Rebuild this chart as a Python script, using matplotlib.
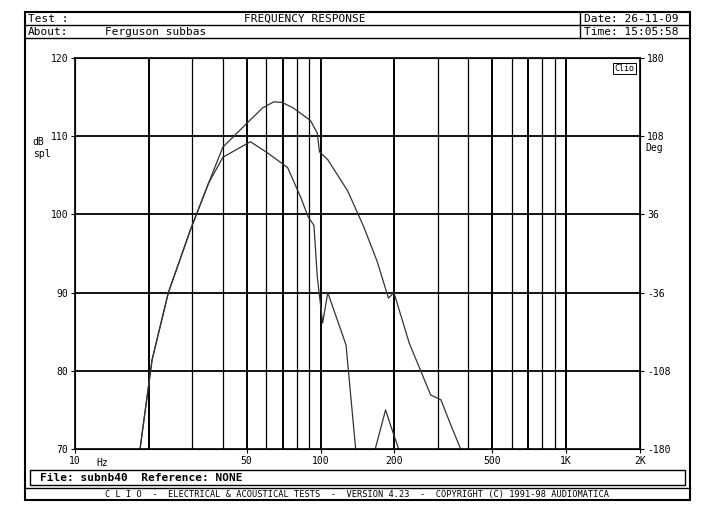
import matplotlib
matplotlib.use("Agg")
import matplotlib.pyplot as plt
from matplotlib.patches import Rectangle
from matplotlib.lines import Line2D

W, H = 705, 523
upper_f = [18.4, 20.6, 24, 29.5, 35, 40, 50.3, 58, 64.5, 70, 77.5, 91, 97, 99, 107, 129, 150, 170, 189, 199, 230, 281, 309, 340, 372]
upper_db = [70, 81.4, 90, 98, 104, 108.6, 111.7, 113.6, 114.4, 114.3, 113.6, 112, 110.4, 108, 107, 103, 98.4, 94, 89.3, 90, 83.5, 76.9, 76.3, 73, 70]
lower_f = [18.4, 20.6, 24, 29.5, 35, 40, 51.8, 60.6, 73.4, 83, 89, 94, 97, 102, 107, 121, 127, 139]
lower_db = [70, 81.4, 90, 98, 104, 107.3, 109.3, 107.9, 106, 102.2, 99.7, 98.6, 92, 86.1, 90, 85.2, 83.3, 70]
bump_f = [167, 184, 193, 208]
bump_db = [70, 75, 73, 70]
yticks = [70, 80, 90, 100, 110, 120]
rticks = ['-180', '-108', '-36', '36', '108', '180']
xticks = [10, 50, 100, 200, 500, 1000, 2000]
xlabels = ['10', '50', '100', '200', '500', '1K', '2K']

fig = plt.figure(figsize=(W/100, H/100), dpi=100)
mono = dict(family='DejaVu Sans Mono', color='black')

def fx(px): return px / W
def fy(py): return 1 - py / H

# outer frame and header
fig.add_artist(Rectangle((fx(25), fy(500)), fx(665), (500-12)/H, fill=False, lw=1.5, transform=fig.transFigure))
for y in (25, 38):
    fig.add_artist(Line2D([fx(25), fx(690)], [fy(y), fy(y)], color='k', lw=1, transform=fig.transFigure))
fig.add_artist(Line2D([fx(580), fx(580)], [fy(12), fy(38)], color='k', lw=1, transform=fig.transFigure))
fig.add_artist(Line2D([fx(25), fx(690)], [fy(488), fy(488)], color='k', lw=1, transform=fig.transFigure))
fig.add_artist(Rectangle((fx(30), fy(485)), fx(655), 15/H, fill=False, lw=1, transform=fig.transFigure))
fig.text(fx(28), fy(19), 'Test :', fontsize=8, va='center', **mono)
fig.text(fx(305), fy(19), 'FREQUENCY RESPONSE', fontsize=8, va='center', ha='center', **mono)
fig.text(fx(28), fy(32), 'About:', fontsize=8, va='center', **mono)
fig.text(fx(105), fy(32), 'Ferguson subbas', fontsize=8, va='center', **mono)
fig.text(fx(584), fy(19), 'Date: 26-11-09', fontsize=8, va='center', **mono)
fig.text(fx(584), fy(32), 'Time: 15:05:58', fontsize=8, va='center', **mono)
fig.text(fx(40), fy(478), 'File: subnb40  Reference: NONE', fontsize=8, va='center', fontweight='bold', **mono)
fig.text(fx(357), fy(495), 'C L I O  -  ELECTRICAL & ACOUSTICAL TESTS  -  VERSION 4.23  -  COPYRIGHT (C) 1991-98 AUDIOMATICA',
         fontsize=6.2, va='center', ha='center', **mono)

ax = fig.add_axes([fx(75), fy(449), (640-75)/W, (449-58)/H])
ax.set_xscale('log')
ax.set_xlim(10, 2000)
ax.set_ylim(70, 120)
grid = [m * d for d in (10, 100, 1000) for m in range(1, 10)] + [2000]
for g in grid:
    if 10 < g < 2000:
        heavy = g in (20, 50, 70, 100, 200, 500, 700, 1000)
        ax.axvline(g, color='k', lw=1.4 if heavy else 0.9)
for v in (80, 90, 100, 110):
    ax.axhline(v, color='k', lw=1.3)
ax.plot(upper_f, upper_db, color='#333333', lw=0.9)
ax.plot(lower_f, lower_db, color='#333333', lw=0.9)
ax.plot(bump_f, bump_db, color='#333333', lw=0.9)
ax.set_xticks(xticks)
ax.set_xticklabels(xlabels, fontsize=7, family='DejaVu Sans Mono')
ax.minorticks_off()
ax.set_yticks(yticks)
ax.set_yticklabels([str(v) for v in yticks], fontsize=7, family='DejaVu Sans Mono')
ax.tick_params(length=3, pad=2)
ax.text(-0.075, 0.77, 'dB\nspl', transform=ax.transAxes, fontsize=7, ha='left', va='center', **mono)
ax.text(0.037, -0.035, 'Hz', transform=ax.transAxes, fontsize=7, va='center', **mono)
ax2 = ax.twinx()
ax2.set_ylim(70, 120)
ax2.set_yticks(yticks)
ax2.set_yticklabels(rticks, fontsize=7, family='DejaVu Sans Mono')
ax2.tick_params(length=3, pad=2)
ax.text(1.01, 0.77, 'Deg', transform=ax.transAxes, fontsize=7, va='center', **mono)
ax.text(0.99, 0.985, 'Clio', transform=ax.transAxes, fontsize=6, ha='right', va='top',
        bbox=dict(boxstyle='square,pad=0.15', fc='white', ec='k', lw=0.7), **mono)
for s in ax.spines.values():
    s.set_linewidth(1.2)

fig.savefig('out.png', dpi=100)
